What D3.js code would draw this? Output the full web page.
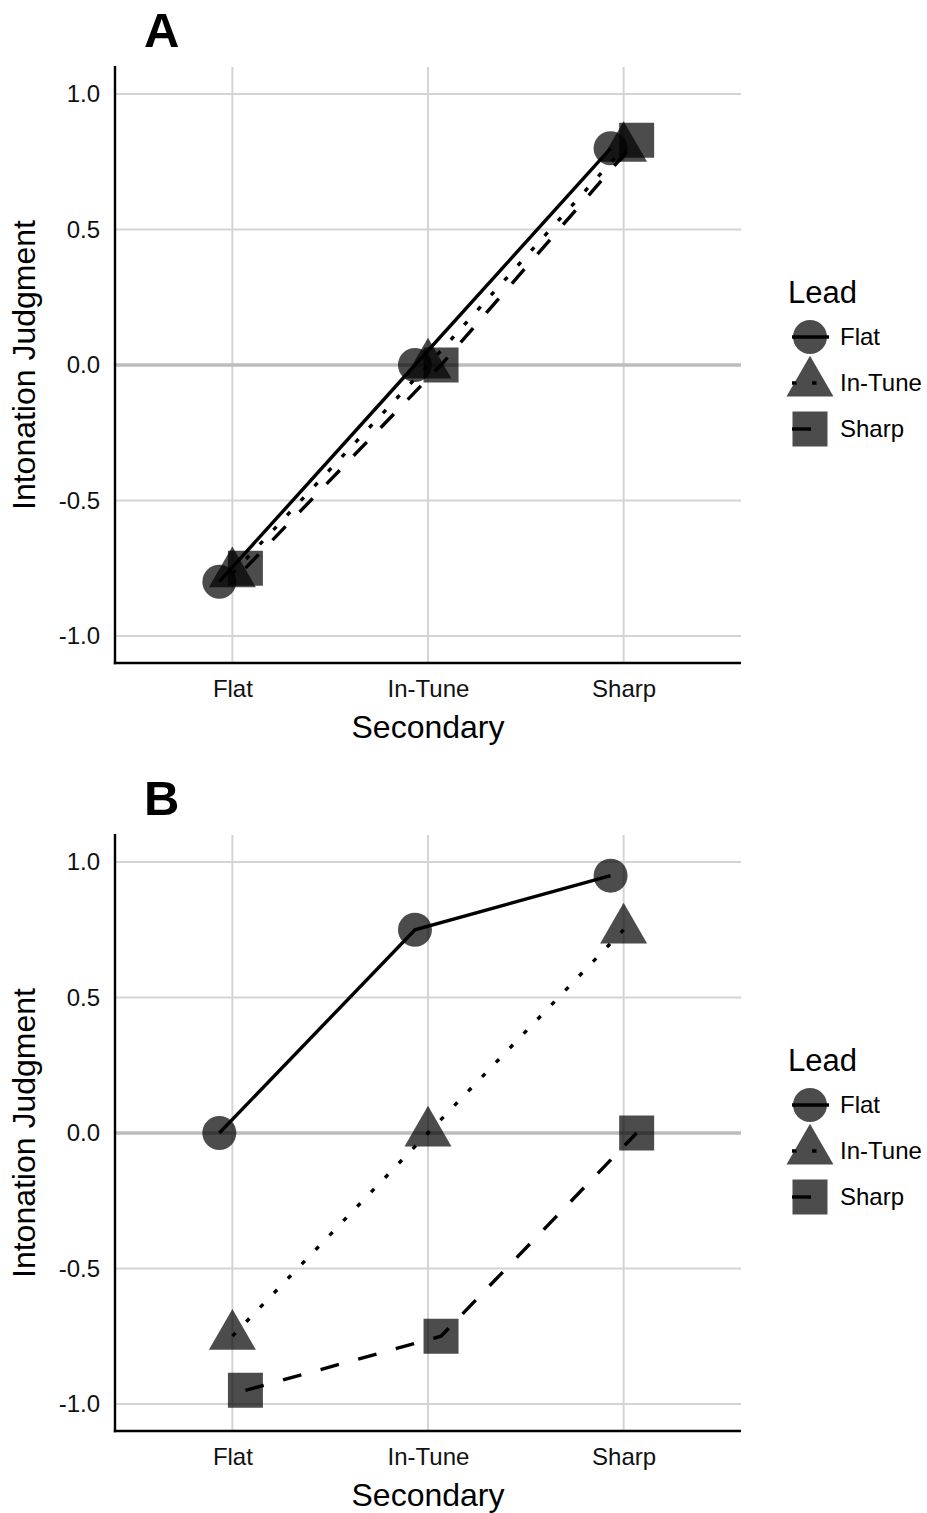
<!DOCTYPE html>
<html>
<head>
<meta charset="utf-8">
<script src="https://cdn.jsdelivr.net/npm/d3@7"></script>
<style>
  body { margin: 0; background: #fff; }
  text { font-family: "Liberation Sans", Arial, sans-serif; }
</style>
</head>
<body>
<svg id="chart" width="927" height="1513"></svg>
<script>
// categories
const secondary = ["Flat", "In-Tune", "Sharp"];
const leads = ["Flat", "In-Tune", "Sharp"];
const yTicks = [-1.0, -0.5, 0.0, 0.5, 1.0];

// panel A values (one per secondary category)
const aFlat = [-0.80, 0.00, 0.80];
const aInTune = [-0.77, 0.00, 0.80];
const aSharp = [-0.75, 0.00, 0.83];

// panel B values
const bFlat = [0.00, 0.75, 0.95];
const bInTune = [-0.75, 0.00, 0.75];
const bSharp = [-0.95, -0.75, 0.00];

const plotLeft = 115;
const plotRight = 741;
const plotTop = 67;
const plotBottom = 663;
const panelGap = 768;

const dash = { "Flat": null, "In-Tune": "4.5,15.5", "Sharp": "19,20" };
const shape = {
  "Flat": d3.symbol(d3.symbolCircle, 908),
  "In-Tune": d3.symbol(d3.symbolTriangle, 956),
  "Sharp": d3.symbol(d3.symbolSquare, 1225)
};

const svg = d3.select("#chart");

const x = d3.scalePoint()
  .domain(secondary)
  .range([plotLeft, plotRight])
  .padding(0.6);

// dodge of 0.2 category width, split across 3 groups
function dodge(lead) {
  return (leads.indexOf(lead) - 1) * 0.2 / 3 * x.step();
}

function drawPanel(offset, label, series) {
  const g = svg.append("g").attr("transform", `translate(0,${offset})`);

  const y = d3.scaleLinear()
    .domain([-1.1, 1.1])
    .range([plotBottom, plotTop]);

  // grid
  g.append("g")
    .selectAll("line")
    .data(yTicks.filter(d => d !== 0))
    .join("line")
      .attr("x1", plotLeft).attr("x2", plotRight)
      .attr("y1", d => y(d)).attr("y2", d => y(d))
      .attr("stroke", "#d4d4d4")
      .attr("stroke-width", 2);

  g.append("g")
    .selectAll("line")
    .data(secondary)
    .join("line")
      .attr("x1", d => x(d)).attr("x2", d => x(d))
      .attr("y1", plotTop).attr("y2", plotBottom)
      .attr("stroke", "#d4d4d4")
      .attr("stroke-width", 2);

  g.append("line")
    .attr("x1", plotLeft).attr("x2", plotRight)
    .attr("y1", y(0)).attr("y2", y(0))
    .attr("stroke", "#bdbdbd")
    .attr("stroke-width", 3.7);

  // axes
  const yAxis = g.append("g")
    .attr("transform", `translate(${plotLeft},0)`)
    .call(d3.axisLeft(y).tickValues(yTicks).tickSize(0).tickPadding(15).tickFormat(d => d.toFixed(1)));
  yAxis.select(".domain").remove();
  yAxis.selectAll("text")
    .attr("font-size", 24)
    .attr("font-family", "Liberation Sans, Arial, sans-serif")
    .attr("fill", "#111");

  const xAxis = g.append("g")
    .attr("transform", `translate(0,${plotBottom})`)
    .call(d3.axisBottom(x).tickSize(0).tickPadding(17));
  xAxis.select(".domain").remove();
  xAxis.selectAll("text")
    .attr("font-size", 24)
    .attr("font-family", "Liberation Sans, Arial, sans-serif")
    .attr("fill", "#111");

  g.append("line")
    .attr("x1", plotLeft).attr("x2", plotLeft)
    .attr("y1", plotTop - 1).attr("y2", plotBottom + 1.2)
    .attr("stroke", "#000").attr("stroke-width", 2.4);
  g.append("line")
    .attr("x1", plotLeft - 1.2).attr("x2", plotRight)
    .attr("y1", plotBottom).attr("y2", plotBottom)
    .attr("stroke", "#000").attr("stroke-width", 2.4);

  // titles
  g.append("text")
    .attr("x", (plotLeft + plotRight) / 2)
    .attr("y", 738)
    .attr("text-anchor", "middle")
    .attr("font-size", 32)
    .attr("fill", "#000")
    .text("Secondary");

  g.append("text")
    .attr("transform", `translate(35,${(plotTop + plotBottom) / 2}) rotate(-90)`)
    .attr("text-anchor", "middle")
    .attr("font-size", 32)
    .attr("fill", "#000")
    .text("Intonation Judgment");

  g.append("text")
    .attr("x", 144)
    .attr("y", 47)
    .attr("font-size", 49)
    .attr("font-weight", "bold")
    .attr("fill", "#000")
    .text(label);

  // points
  const points = series.flatMap(s => s.values.map((v, i) => ({ lead: s.lead, sec: secondary[i], value: v })));
  g.append("g")
    .selectAll("path")
    .data(points)
    .join("path")
      .attr("d", d => shape[d.lead]())
      .attr("transform", d => `translate(${x(d.sec) + dodge(d.lead)},${y(d.value)})`)
      .attr("fill", "#000")
      .attr("fill-opacity", 0.7);

  // lines
  const line = d3.line()
    .x(d => x(d.sec) + dodge(d.lead))
    .y(d => y(d.value));

  g.append("g")
    .selectAll("path")
    .data(series)
    .join("path")
      .attr("d", s => line(s.values.map((v, i) => ({ lead: s.lead, sec: secondary[i], value: v }))))
      .attr("fill", "none")
      .attr("stroke", "#000")
      .attr("stroke-width", 3.4)
      .attr("stroke-dasharray", s => dash[s.lead]);

  // legend
  const legend = g.append("g");
  legend.append("text")
    .attr("x", 788)
    .attr("y", 303)
    .attr("font-size", 31)
    .attr("fill", "#000")
    .text("Lead");

  const item = legend.selectAll("g.item")
    .data(leads)
    .join("g")
      .attr("class", "item")
      .attr("transform", (d, i) => `translate(810,${337 + i * 46})`);

  item.append("path")
    .attr("d", d => shape[d]())
    .attr("fill", "#000")
    .attr("fill-opacity", 0.7);

  item.append("line")
    .attr("x1", -18).attr("x2", 19)
    .attr("stroke", "#000")
    .attr("stroke-width", 3.4)
    .attr("stroke-dasharray", d => dash[d]);

  item.append("text")
    .attr("x", 30)
    .attr("y", 0)
    .attr("dy", "0.35em")
    .attr("font-size", 24)
    .attr("fill", "#000")
    .text(d => d);
}

drawPanel(0, "A", [
  { lead: "Flat", values: aFlat },
  { lead: "In-Tune", values: aInTune },
  { lead: "Sharp", values: aSharp }
]);

drawPanel(panelGap, "B", [
  { lead: "Flat", values: bFlat },
  { lead: "In-Tune", values: bInTune },
  { lead: "Sharp", values: bSharp }
]);
</script>
</body>
</html>
